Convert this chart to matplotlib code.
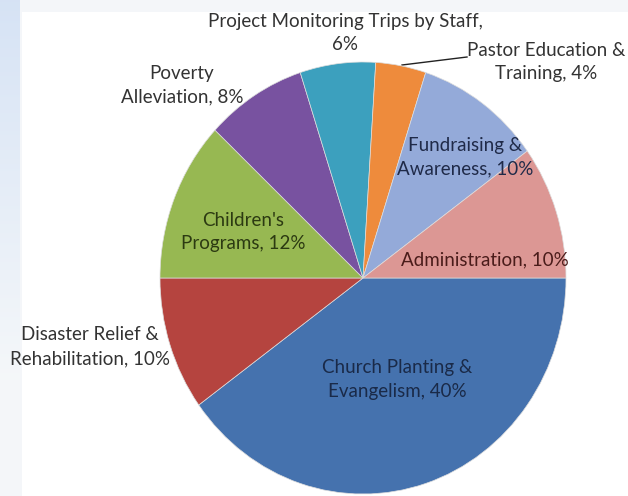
import numpy as np
import matplotlib
matplotlib.use('Agg')
import matplotlib.pyplot as plt
from matplotlib.patches import Rectangle

# Данные (по часовой стрелке от 3 часов)
categories = ['Church Planting &\nEvangelism', 'Disaster Relief &\nRehabilitation',
              "Children's\nPrograms", 'Poverty\nAlleviation',
              'Project Monitoring Trips by Staff,\n', 'Pastor Education &\nTraining',
              'Fundraising &\nAwareness', 'Administration']
shares = [40, 10, 12, 8, 6, 4, 10, 10]
colors = ['#4572AE', '#B5443F', '#97B852', '#7852A0', '#3CA0BE', '#EE8B3C', '#94AAD9', '#DC9794']

# Позиции подписей в пикселях (x, y сверху) и цвет текста
label_pos = [(397, 379), (90, 347), (243, 232), (182, 85),
             (345, 33), (546, 62), (465, 157), (485, 260)]
label_col = ['#1a2a48', '#333333', '#2c3a12', '#333333',
             '#333333', '#333333', '#1f2a48', '#4a1c1a']

W, H = 628, 496
fig = plt.figure(figsize=(W / 100, H / 100), dpi=100)
fig.patch.set_facecolor('#f4f6f9')

# фон: голубоватая полоса слева и белая область графика
bg = fig.add_axes([0, 0, 1, 1])
bg.set_xlim(0, W)
bg.set_ylim(H, 0)
bg.axis('off')
grad = np.linspace(0, 1, 200).reshape(-1, 1)
bg.imshow(np.dstack([0.84 + 0.12 * grad, 0.89 + 0.08 * grad, 0.96 + 0.02 * grad]),
          extent=(0, 20, 380, 0), aspect='auto')
bg.add_patch(Rectangle((22, 12), W - 22, H - 12, facecolor='white', edgecolor='none'))

# круговая диаграмма (слегка вытянута по вертикали, как на картинке)
cx, cy, rx, ry = 363, 278, 203, 216
ax = fig.add_axes([(cx - rx) / W, (H - cy - ry) / H, 2 * rx / W, 2 * ry / H])
ax.pie(shares, colors=colors, startangle=0, counterclock=False,
       wedgeprops=dict(edgecolor='#dddddd', linewidth=0.5))
ax.set_aspect('auto')
ax.set_xlim(-1, 1)
ax.set_ylim(-1, 1)
ax.axis('off')

for name, val, (x, y), c in zip(categories, shares, label_pos, label_col):
    if name.endswith('\n'):
        txt = name + f'{val}%'
    else:
        txt = f'{name}, {val}%'
    fig.text(x / W, 1 - y / H, txt, ha='center', va='center', color=c,
             fontsize=13.5, family='Lato', linespacing=1.5)

# выноска для Pastor Education
bg.plot([467, 402], [57, 65], color='#222222', lw=1)

fig.savefig('out.png', dpi=100)
